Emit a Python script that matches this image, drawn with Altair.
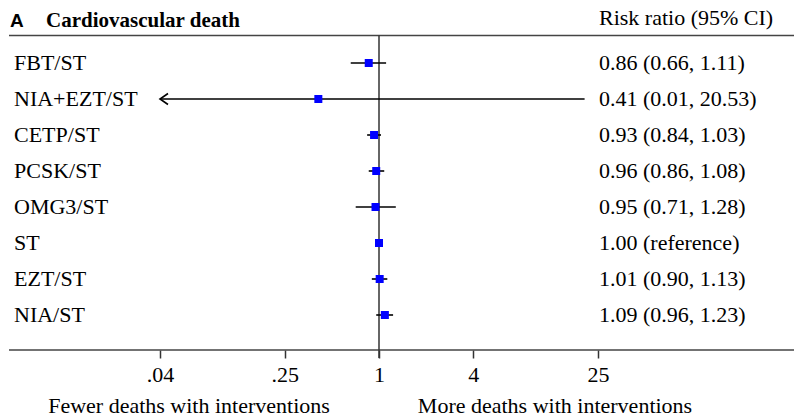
import altair as alt
import pandas as pd

# ---- data ----
categories = ["FBT/ST", "NIA+EZT/ST", "CETP/ST", "PCSK/ST", "OMG3/ST", "ST", "EZT/ST", "NIA/ST"]
risk_ratio = [0.86, 0.41, 0.93, 0.96, 0.95, 1.00, 1.01, 1.09]
ci_low = [0.66, 0.01, 0.84, 0.86, 0.71, None, 0.90, 0.96]
ci_high = [1.11, 20.53, 1.03, 1.08, 1.28, None, 1.13, 1.23]
tick_values = [0.04, 0.25, 1, 4, 25]

axis_min, axis_max = 0.04, 25

def ci_text(r, lo, hi):
    if lo is None:
        return f"{r:.2f} (reference)"
    return f"{r:.2f} ({lo:.2f}, {hi:.2f})"

df = pd.DataFrame({
    "label": categories,
    "rr": risk_ratio,
    "lo": ci_low,
    "hi": ci_high,
    "text": [ci_text(r, l, h) for r, l, h in zip(risk_ratio, ci_low, ci_high)],
})
df["lo_plot"] = [max(v, axis_min) if v is not None else None for v in ci_low]
df["clipped"] = [(v is not None and v < axis_min) for v in ci_low]

SERIF = "Liberation Serif"
FS = 22

xscale = alt.Scale(type="log", domain=[axis_min, axis_max], range=[151, 589])
yscale = alt.Scale(type="point", domain=categories, range=[63, 315], padding=0)

base = alt.Chart(df)

x_axis = alt.Axis(
    values=tick_values, format=".2~f",
    labelExpr="replace(datum.label, '0.', '.')",
    title=None, grid=False, domain=False, labelFlush=False,
    labelFont=SERIF, labelFontSize=FS, labelColor="black",
    tickColor="#333", tickWidth=1.5, tickSize=8, labelPadding=6,
)

ci = base.mark_rule(color="black", strokeWidth=1.6).encode(
    x=alt.X("lo_plot:Q", scale=xscale, axis=x_axis),
    x2="hi:Q",
    y=alt.Y("label:N", scale=yscale, axis=None),
)

arrow = base.transform_filter("datum.clipped").mark_point(
    shape="M1.6,-1.1L0,0L1.6,1.1", filled=False, stroke="black", strokeWidth=1.6, size=100, opacity=1
).encode(
    x=alt.X("lo_plot:Q", scale=xscale),
    y=alt.Y("label:N", scale=yscale),
)

ref = alt.Chart(pd.DataFrame({"v": [1]})).mark_rule(color="#333", strokeWidth=1.5).encode(
    x=alt.X("v:Q", scale=xscale),
    y=alt.value(35.5),
    y2=alt.value(358),
)

frame = pd.DataFrame({"y": [35.5, 350]})
h_lines = alt.Chart(frame).mark_rule(color="#444", strokeWidth=1.5).encode(
    x=alt.value(0), x2=alt.value(785), y=alt.Y("y:Q", scale=None)
)

points = base.mark_square(color="#0000FF", size=64, opacity=1).encode(
    x=alt.X("rr:Q", scale=xscale),
    y=alt.Y("label:N", scale=yscale),
)

row_labels = base.mark_text(align="left", baseline="middle", font=SERIF, fontSize=FS, color="black").encode(
    x=alt.value(5),
    y=alt.Y("label:N", scale=yscale),
    text="label:N",
)

value_labels = base.mark_text(align="left", baseline="middle", font=SERIF, fontSize=FS, color="black").encode(
    x=alt.value(590),
    y=alt.Y("label:N", scale=yscale),
    text="text:N",
)

panel_letter = alt.Chart(pd.DataFrame({"t": ["A"]})).mark_text(
    align="left", baseline="alphabetic", font="Liberation Sans", fontWeight="bold", fontSize=19, color="black"
).encode(x=alt.value(1), y=alt.value(27), text="t:N")

title_text = alt.Chart(pd.DataFrame({"t": ["Cardiovascular death"]})).mark_text(
    align="left", baseline="alphabetic", font=SERIF, fontWeight="bold", fontSize=21, color="black"
).encode(x=alt.value(37), y=alt.value(27), text="t:N")

header_text = alt.Chart(pd.DataFrame({"t": ["Risk ratio (95% CI)"]})).mark_text(
    align="left", baseline="alphabetic", font=SERIF, fontSize=FS, color="black"
).encode(x=alt.value(590), y=alt.value(25), text="t:N")

bottom = pd.DataFrame({
    "t": ["Fewer deaths with interventions", "More deaths with interventions"],
    "px": [180, 546],
})
bottom_text = alt.Chart(bottom).mark_text(
    align="center", baseline="middle", font=SERIF, fontSize=FS, color="black"
).encode(x=alt.X("px:Q", scale=None), y=alt.value(406), text="t:N")

chart = alt.layer(
    h_lines, ref, ci, arrow, points, row_labels, value_labels,
    panel_letter, title_text, header_text, bottom_text,
).properties(
    width=785, height=350,
    padding={"left": 9, "top": 0, "right": 0, "bottom": 67},
    autosize=alt.AutoSizeParams(type="none"),
    background="white",
).configure_view(strokeWidth=0)

chart.save("out.html", embed_options={"renderer": "svg", "actions": False})
